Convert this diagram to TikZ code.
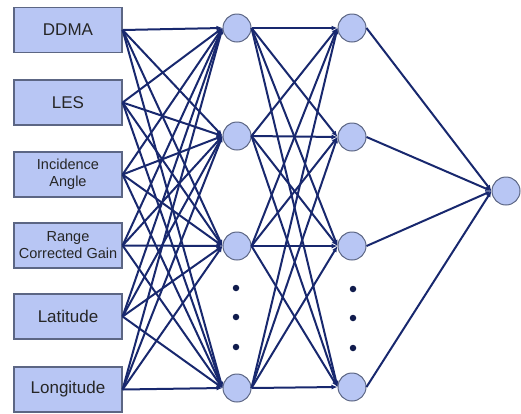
\documentclass[tikz,border=0pt]{standalone}
\usepackage{fontspec}
\setmainfont{Liberation Sans}
\usetikzlibrary{arrows.meta}

\definecolor{netblue}{RGB}{24,40,110}
\definecolor{boxfill}{RGB}{184,198,244}
\definecolor{boxline}{RGB}{92,102,132}

\tikzset{
  inbox/.style={draw=boxline,line width=1.2pt,fill=boxfill,minimum width=108pt,minimum height=45pt,
    inner sep=0pt,align=center,text=black!85,font=\fontsize{17}{19}\selectfont},
  smalltext/.style={font=\fontsize{14.5}{17}\selectfont},
  neuron/.style={circle,draw=boxline,line width=1pt,fill=boxfill,minimum size=28pt,inner sep=0pt},
  ddot/.style={circle,fill=netblue!70!black,minimum size=6.5pt,inner sep=0pt},
  wire/.style={netblue,line width=2pt,-{Latex[length=6pt,width=5pt]}}
}

\begin{document}
\begin{tikzpicture}[x=1pt,y=-1pt]
        \useasboundingbox (0,0) rectangle (521,413);

        % inputs
        \node[inbox](in1) at (68,30){DDMA};
        \node[inbox](in2) at (68,102.5){LES};
        \node[inbox,smalltext](in3) at (68,174.5){Incidence\\Angle};
        \node[inbox,smalltext](in4) at (68,245.5){Range\\Corrected Gain};
        \node[inbox](in5) at (68,316.5){Latitude};
        \node[inbox](in6) at (68,389.5){Longitude};

        % hidden layers
        \foreach \j/\y in {1/28,2/136,3/246,4/388}{
            \node[neuron](ha\j) at (237,\y){};
        }
        \foreach \j/\y in {1/28,2/137,3/246,4/387}{
            \node[neuron](hb\j) at (352,\y){};
        }
        \node[neuron](out) at (506,191){};

        \foreach \k/\y in {1/288,2/317,3/347}{
            \node[ddot](da\k) at (236,\y){};
            \node[ddot](db\k) at (353,\y+1){};
        }

        % connections
        \foreach \i in {1,...,6}{
            \foreach \j in {1,...,4}{
                \draw[wire](in\i.east)--(ha\j.west);
            }
        }
        \foreach \i in {1,...,4}{
            \foreach \j in {1,...,4}{
                \draw[wire](ha\i.east)--(hb\j.west);
            }
            \draw[wire](hb\i.east)--(out.west);
        }
\end{tikzpicture}
\end{document}
